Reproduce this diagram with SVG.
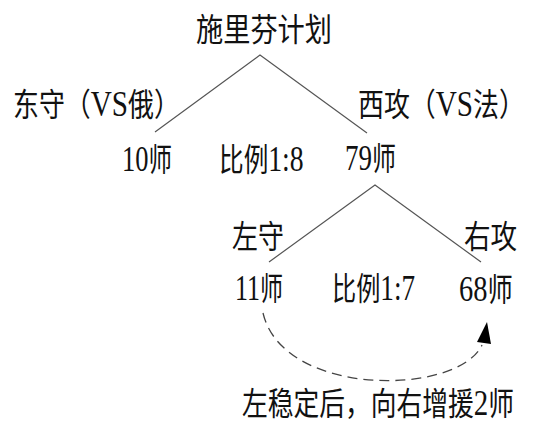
<svg xmlns="http://www.w3.org/2000/svg" width="558" height="433" viewBox="0 0 558 433">
<style>
.t{font-family:"Liberation Serif","Noto Sans CJK SC",serif;font-size:32px;fill:#111;}
.n{font-size:36px;}
.e{stroke:#555;stroke-width:1.2;fill:none;}
.d{stroke:#444;stroke-width:1.3;fill:none;stroke-dasharray:10 6;}
</style>
<rect width="558" height="433" fill="#fff"/>
<g id="connectors">
<polyline class="e" points="155,132 260,55 367,133"/>
<polyline class="e" points="269,262 375,185 481,262"/>
<path class="d" d="M263,313 C283,398 458,396 482,345"/>
<polygon points="487,322 477,342 491,344" fill="#000"/>
</g>
<g id="n-plan"><text class="t" transform="translate(196,41) scale(0.85,1)">施里芬计划</text></g>
<g id="n-east"><text class="t" transform="translate(13,116) scale(0.81,1)">东守（<tspan class="n">VS</tspan>俄）</text></g>
<g id="n-west"><text class="t" transform="translate(358,116) scale(0.81,1)">西攻（<tspan class="n">VS</tspan>法）</text></g>
<g id="n-10"><text class="t" transform="translate(122,171) scale(0.735,1)"><tspan class="n">10</tspan>师</text></g>
<g id="n-ratio1"><text class="t" transform="translate(219,171) scale(0.77,1)">比例<tspan class="n">1:8</tspan></text></g>
<g id="n-79"><text class="t" transform="translate(345,170) scale(0.75,1)"><tspan class="n">79</tspan>师</text></g>
<g id="n-left"><text class="t" transform="translate(232,248) scale(0.81,1)">左守</text></g>
<g id="n-right"><text class="t" transform="translate(464,248) scale(0.83,1)">右攻</text></g>
<g id="n-11"><text class="t" transform="translate(235,300) scale(0.72,1)"><tspan class="n">11</tspan>师</text></g>
<g id="n-ratio2"><text class="t" transform="translate(332,300) scale(0.755,1)">比例<tspan class="n">1:7</tspan></text></g>
<g id="n-68"><text class="t" transform="translate(459,301) scale(0.79,1)"><tspan class="n">68</tspan>师</text></g>
<g id="n-note"><text class="t" transform="translate(242,415) scale(0.805,1)">左稳定后，向右增援<tspan class="n">2</tspan>师</text></g>
</svg>
